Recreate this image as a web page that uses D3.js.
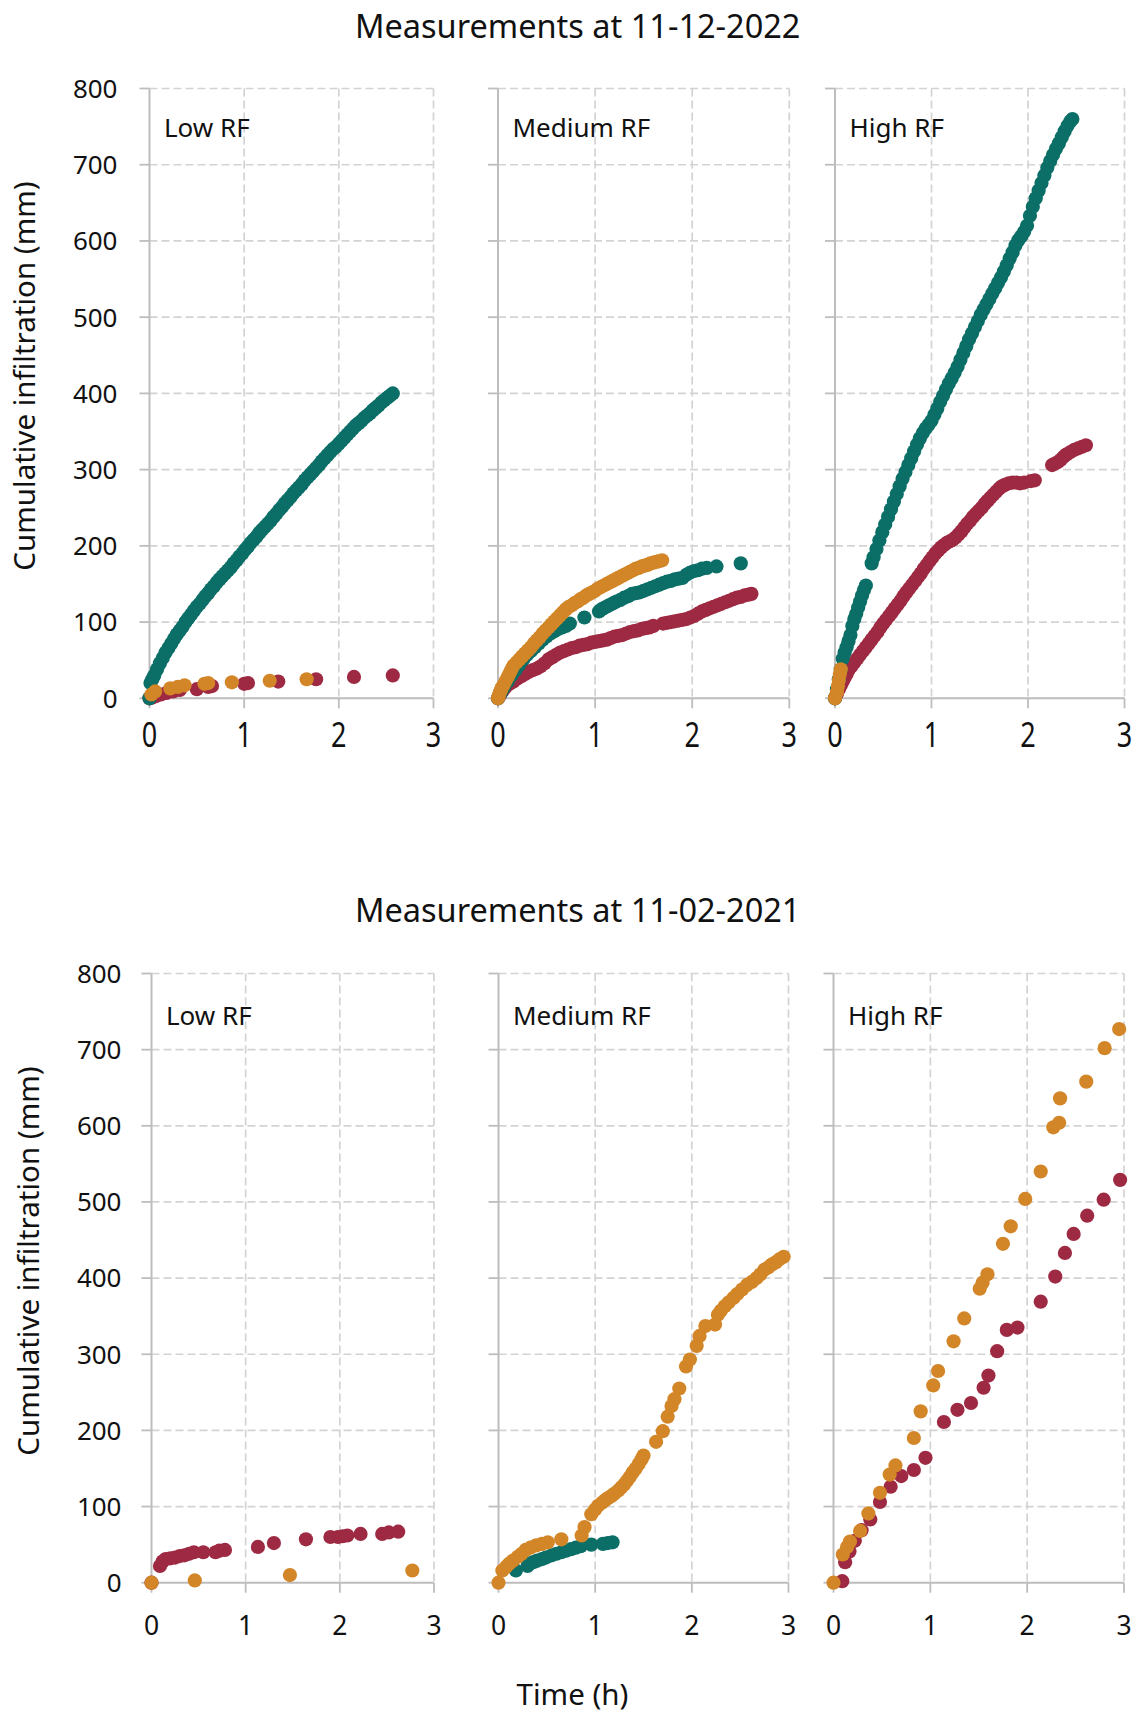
<!DOCTYPE html>
<html><head><meta charset="utf-8">
<script src="https://cdn.jsdelivr.net/npm/d3@7"></script>
<style>body{margin:0;background:#fff}svg{display:block}</style>
</head><body>
<svg id="chart" width="1139" height="1717"></svg>
<script>
// ---------------- DATA ----------------
const xTicks = [0, 1, 2, 3];
const yTicks = [0, 100, 200, 300, 400, 500, 600, 700, 800];
const rowTitles = ["Measurements at 11-12-2022", "Measurements at 11-02-2021"];
const panelLabels = ["Low RF", "Medium RF", "High RF"];
const xAxisTitle = "Time (h)";
const yAxisTitle = "Cumulative infiltration (mm)";

// [time (h), cumulative infiltration (mm)]
// 11-12-2022, Low RF
const lowTeal2022 = [[0,0],[0.01,20],[0.03,25],[0.05,30],[0.08,38],[0.11,46],[0.14,53],[0.17,60],[0.2,66],[0.23,72],[0.26,78],[0.29,84],[0.32,89],[0.35,94],[0.38,100],[0.41,105],[0.44,110],[0.47,115],[0.5,120],[0.53,124],[0.56,129],[0.59,134],[0.62,138],[0.65,143],[0.68,147],[0.71,152],[0.74,156],[0.77,160],[0.8,164],[0.83,168],[0.86,172],[0.89,177],[0.92,181],[0.95,186],[0.98,190],[1.01,195],[1.04,199],[1.07,204],[1.1,208],[1.13,212],[1.16,217],[1.19,221],[1.22,225],[1.25,229],[1.28,233],[1.31,238],[1.34,242],[1.37,247],[1.4,251],[1.43,256],[1.46,260],[1.49,264],[1.52,269],[1.55,273],[1.58,277],[1.61,281],[1.64,286],[1.67,290],[1.7,294],[1.73,298],[1.76,302],[1.79,306],[1.82,311],[1.85,315],[1.88,319],[1.91,323],[1.94,327],[1.97,330],[2.0,334],[2.03,338],[2.06,342],[2.09,346],[2.12,350],[2.15,354],[2.18,358],[2.21,361],[2.24,364],[2.27,368],[2.3,371],[2.33,374],[2.36,378],[2.39,381],[2.42,384],[2.45,388],[2.48,391],[2.51,394],[2.54,397],[2.57,400]];
const lowRed2022 = [[0,0],[0.03,1],[0.07,3],[0.12,5],[0.18,7],[0.25,9],[0.32,11],[0.5,12],[0.62,15],[0.66,16],[1.0,19],[1.04,20],[1.36,22],[1.76,25],[2.16,28],[2.57,30]];
const lowOrange2022 = [[0.02,5],[0.06,9],[0.22,13],[0.3,15],[0.37,17],[0.58,19],[0.62,20],[0.87,21],[1.27,23],[1.66,25]];

// 11-12-2022, Medium RF
const medTeal2022 = [[0,0],[0.03,7],[0.06,14],[0.1,22],[0.14,30],[0.18,37],[0.22,44],[0.26,51],[0.3,57],[0.34,62],[0.38,67],[0.42,72],[0.46,77],[0.5,81],[0.54,85],[0.58,88],[0.62,91],[0.66,93],[0.7,95],[0.74,98],[0.89,106],[1.04,114],[1.07,117],[1.1,119],[1.13,121],[1.16,123],[1.19,125],[1.22,127],[1.26,129],[1.3,132],[1.34,134],[1.38,137],[1.42,138],[1.46,139],[1.5,141],[1.54,143],[1.58,145],[1.62,147],[1.66,149],[1.7,151],[1.74,153],[1.78,154],[1.82,156],[1.86,157],[1.9,158],[1.94,162],[1.98,165],[2.02,167],[2.06,168],[2.1,170],[2.15,171],[2.25,173],[2.5,177]];
const medRed2022 = [[0,0],[0.02,4],[0.05,10],[0.08,15],[0.12,19],[0.16,22],[0.2,26],[0.24,29],[0.28,32],[0.32,35],[0.36,37],[0.4,39],[0.44,42],[0.48,46],[0.52,51],[0.56,54],[0.6,57],[0.64,60],[0.68,62],[0.72,64],[0.76,66],[0.8,67],[0.84,69],[0.88,70],[0.92,71],[0.96,73],[1.0,74],[1.04,75],[1.08,76],[1.12,77],[1.16,79],[1.2,81],[1.24,82],[1.28,83],[1.32,85],[1.36,87],[1.4,88],[1.44,89],[1.48,91],[1.52,92],[1.56,93],[1.6,95],[1.7,98],[1.74,99],[1.78,100],[1.82,101],[1.86,102],[1.9,103],[1.94,104],[1.98,106],[2.02,108],[2.06,111],[2.1,114],[2.14,116],[2.18,118],[2.22,120],[2.26,122],[2.3,124],[2.34,126],[2.38,128],[2.42,130],[2.46,132],[2.5,133],[2.54,135],[2.58,136],[2.61,137]];
const medOrange2022 = [[0,0],[0.01,4],[0.02,8],[0.03,11],[0.04,14],[0.06,18],[0.08,23],[0.1,28],[0.12,33],[0.14,38],[0.16,43],[0.19,47],[0.22,51],[0.25,55],[0.28,59],[0.31,63],[0.34,67],[0.37,72],[0.4,76],[0.43,80],[0.46,85],[0.49,89],[0.52,93],[0.55,97],[0.58,101],[0.61,105],[0.64,109],[0.67,113],[0.7,117],[0.73,120],[0.76,122],[0.79,125],[0.82,127],[0.85,130],[0.88,132],[0.91,135],[0.94,137],[0.97,139],[1.0,141],[1.03,144],[1.06,146],[1.09,148],[1.12,150],[1.15,152],[1.18,154],[1.21,156],[1.24,158],[1.27,160],[1.3,162],[1.33,164],[1.36,166],[1.39,168],[1.42,170],[1.45,171],[1.48,173],[1.51,174],[1.54,175],[1.57,177],[1.6,178],[1.63,179],[1.66,180],[1.69,181]];

// 11-12-2022, High RF
const highTeal2022 = [[0,0],[0.02,12],[0.04,25],[0.06,38],[0.08,52],[0.1,60],[0.12,67],[0.14,75],[0.16,83],[0.18,95],[0.2,104],[0.22,111],[0.24,119],[0.26,127],[0.28,135],[0.3,142],[0.32,148],[0.38,177],[0.4,185],[0.43,196],[0.46,207],[0.49,218],[0.52,228],[0.55,238],[0.58,248],[0.61,258],[0.64,268],[0.67,278],[0.7,288],[0.73,297],[0.76,306],[0.79,315],[0.82,324],[0.85,333],[0.88,341],[0.91,348],[0.94,354],[0.97,359],[1.0,364],[1.03,372],[1.06,380],[1.09,389],[1.12,397],[1.15,405],[1.18,413],[1.21,420],[1.24,427],[1.27,435],[1.3,444],[1.33,453],[1.36,462],[1.39,471],[1.42,479],[1.45,487],[1.48,495],[1.51,503],[1.54,510],[1.57,517],[1.6,524],[1.63,531],[1.66,538],[1.69,545],[1.72,552],[1.75,560],[1.78,568],[1.81,577],[1.84,585],[1.87,594],[1.9,601],[1.93,606],[1.96,612],[1.99,620],[2.02,633],[2.05,645],[2.08,656],[2.11,666],[2.14,676],[2.17,686],[2.2,696],[2.23,705],[2.26,713],[2.29,721],[2.32,728],[2.35,736],[2.38,744],[2.41,751],[2.44,757],[2.46,760]];
const highRed2022 = [[0,0],[0.02,6],[0.04,12],[0.06,17],[0.08,22],[0.1,27],[0.12,32],[0.14,37],[0.17,42],[0.2,47],[0.23,52],[0.26,57],[0.29,62],[0.32,67],[0.35,72],[0.38,77],[0.41,82],[0.44,87],[0.47,93],[0.5,98],[0.53,103],[0.56,108],[0.59,113],[0.62,118],[0.65,123],[0.68,128],[0.71,134],[0.74,139],[0.77,144],[0.8,149],[0.83,154],[0.86,159],[0.89,164],[0.92,170],[0.95,175],[0.98,180],[1.01,185],[1.04,190],[1.07,194],[1.1,198],[1.13,201],[1.16,204],[1.19,206],[1.22,208],[1.25,211],[1.28,215],[1.31,219],[1.34,224],[1.37,229],[1.4,233],[1.43,238],[1.46,242],[1.49,246],[1.52,250],[1.55,255],[1.58,259],[1.61,263],[1.64,267],[1.67,271],[1.7,275],[1.73,278],[1.76,280],[1.8,282],[1.84,283],[1.88,283],[1.92,282],[1.96,283],[2.03,285],[2.07,286],[2.25,306],[2.28,308],[2.31,310],[2.34,313],[2.37,317],[2.4,320],[2.44,323],[2.48,326],[2.52,328],[2.56,330],[2.6,332]];
const highOrange2022 = [[0,0],[0.02,8],[0.03,16],[0.04,24],[0.05,32],[0.06,38]];

// 11-02-2021, Low RF
const lowTeal2021 = [];
const lowRed2021 = [[0,0],[0.09,22],[0.12,28],[0.15,31],[0.2,32],[0.25,33],[0.3,35],[0.35,36],[0.4,38],[0.45,40],[0.55,40],[0.68,40],[0.72,42],[0.78,43],[1.13,47],[1.3,52],[1.64,57],[1.9,60],[1.98,60],[2.03,61],[2.08,62],[2.22,64],[2.45,64],[2.52,66],[2.62,67]];
const lowOrange2021 = [[0,0],[0.46,3],[1.47,10],[2.77,16]];

// 11-02-2021, Medium RF
const medTeal2021 = [[0.18,16],[0.3,22],[0.32,25],[0.36,27],[0.4,29],[0.45,31],[0.49,33],[0.55,36],[0.6,38],[0.65,40],[0.7,42],[0.75,44],[0.8,46],[0.85,48],[0.96,50],[1.08,51],[1.13,52],[1.18,53]];
const medRed2021 = [];
const medOrange2021 = [[0,0],[0.04,16],[0.08,21],[0.11,25],[0.15,29],[0.2,34],[0.24,38],[0.28,43],[0.33,46],[0.39,49],[0.45,51],[0.51,53],[0.65,57],[0.86,62],[0.89,73],[0.96,90],[1.0,96],[1.03,101],[1.07,105],[1.1,108],[1.13,111],[1.17,114],[1.2,117],[1.24,121],[1.27,125],[1.3,129],[1.33,134],[1.36,139],[1.39,145],[1.42,150],[1.45,156],[1.48,162],[1.5,167],[1.63,185],[1.7,199],[1.75,218],[1.79,232],[1.82,241],[1.87,255],[1.94,284],[1.98,293],[2.05,311],[2.08,324],[2.14,337],[2.24,339],[2.27,352],[2.3,357],[2.34,363],[2.38,368],[2.43,374],[2.47,379],[2.52,385],[2.57,391],[2.62,395],[2.67,400],[2.71,405],[2.75,411],[2.79,414],[2.83,418],[2.87,421],[2.91,425],[2.95,428]];

// 11-02-2021, High RF
const highTeal2021 = [];
const highRed2021 = [[0.09,2],[0.12,27],[0.165,41],[0.22,55],[0.29,69],[0.38,83],[0.48,106],[0.59,126],[0.7,140],[0.83,148],[0.95,164],[1.14,211],[1.28,227],[1.42,236],[1.55,256],[1.6,272],[1.69,304],[1.79,332],[1.9,335],[2.14,369],[2.29,402],[2.39,433],[2.48,458],[2.62,482],[2.79,503],[2.96,529]];
const highOrange2021 = [[0,0],[0.096,37],[0.14,47],[0.17,54],[0.275,68],[0.36,91],[0.48,118],[0.58,142],[0.64,154],[0.83,190],[0.9,225],[1.03,259],[1.08,278],[1.24,317],[1.35,347],[1.51,386],[1.54,394],[1.59,405],[1.75,445],[1.83,468],[1.98,504],[2.14,540],[2.27,598],[2.33,604],[2.34,636],[2.61,658],[2.8,702],[2.95,727]];

// ---------------- STYLE / LAYOUT ----------------
const colors = { red: "#9e2942", teal: "#0b6e67", orange: "#d38627" };
const dotR = 7.1;
const fontFam = "'Noto Sans', 'Open Sans', sans-serif";

const rowLayout = [
  { top: 88.5, bottom: 698.3, titleY: 37.5, labelY: 137, xTickY: 734.5, xTickSize: 27, xTickStretch: 1.25, yTickGap: 32, yTitleX: 35, yTitleY: 376,
    cols: [[149.5, 433.5], [498, 789.3], [835, 1124.5]] },
  { top: 973.5, bottom: 1582.7, titleY: 922, labelY: 1024.5, xTickY: 1625.5, xTickSize: 26.5, xTickStretch: 1.0, yTickGap: 30, yTitleX: 39, yTitleY: 1261,
    cols: [[151.5, 434], [498.5, 788.5], [833.5, 1124]] }
];

const panels = [
  { row: 0, col: 0, red: lowRed2022, teal: lowTeal2022, orange: lowOrange2022 },
  { row: 0, col: 1, red: medRed2022, teal: medTeal2022, orange: medOrange2022 },
  { row: 0, col: 2, red: highRed2022, teal: highTeal2022, orange: highOrange2022 },
  { row: 1, col: 0, red: lowRed2021, teal: lowTeal2021, orange: lowOrange2021 },
  { row: 1, col: 1, red: medRed2021, teal: medTeal2021, orange: medOrange2021 },
  { row: 1, col: 2, red: highRed2021, teal: highTeal2021, orange: highOrange2021 }
];

const svg = d3.select("#chart");
svg.append("rect").attr("width", 1139).attr("height", 1717).attr("fill", "#fff");

const gridColor = "#d3d3d3", axisColor = "#bdbdbd", textColor = "#111";

// row titles and y-axis titles
rowLayout.forEach((r, i) => {
  svg.append("text").attr("x", 577.7).attr("y", r.titleY)
    .attr("text-anchor", "middle").attr("font-family", fontFam).attr("font-size", 32.5)
    .attr("fill", textColor).text(rowTitles[i]);
  svg.append("text")
    .attr("transform", `translate(${r.yTitleX},${r.yTitleY}) rotate(-90)`)
    .attr("text-anchor", "middle").attr("font-family", fontFam).attr("font-size", 29.5)
    .attr("fill", textColor).text(yAxisTitle);
});

svg.append("text").attr("x", 572.5).attr("y", 1705)
  .attr("text-anchor", "middle").attr("font-family", fontFam).attr("font-size", 29.5)
  .attr("fill", textColor).text(xAxisTitle);

panels.forEach(p => {
  const r = rowLayout[p.row];
  const [x0, x1] = r.cols[p.col];
  const x = d3.scaleLinear().domain([0, 3]).range([x0, x1]);
  const y = d3.scaleLinear().domain([0, 800]).range([r.bottom, r.top]);
  const g = svg.append("g");

  // horizontal gridlines
  g.selectAll(".hg").data(yTicks.filter(v => v > 0)).join("line")
    .attr("x1", x(0)).attr("x2", x(3)).attr("y1", d => y(d)).attr("y2", d => y(d))
    .attr("stroke", gridColor).attr("stroke-width", 1.7).attr("stroke-dasharray", "8,4");
  // vertical gridlines
  g.selectAll(".vg").data(xTicks.filter(v => v > 0)).join("line")
    .attr("x1", d => x(d)).attr("x2", d => x(d)).attr("y1", y(800)).attr("y2", y(0))
    .attr("stroke", gridColor).attr("stroke-width", 1.7).attr("stroke-dasharray", "8,4");

  // y tick marks
  g.selectAll(".yt").data(yTicks).join("line")
    .attr("x1", x(0) - 10).attr("x2", x(0)).attr("y1", d => y(d)).attr("y2", d => y(d))
    .attr("stroke", axisColor).attr("stroke-width", 1.8);
  // x tick marks
  g.selectAll(".xt").data(xTicks).join("line")
    .attr("x1", d => x(d)).attr("x2", d => x(d)).attr("y1", y(0)).attr("y2", y(0) + 10)
    .attr("stroke", axisColor).attr("stroke-width", 1.8);
  // axes lines
  g.append("line").attr("x1", x(0)).attr("x2", x(0)).attr("y1", y(800)).attr("y2", y(0))
    .attr("stroke", axisColor).attr("stroke-width", 2);
  g.append("line").attr("x1", x(0)).attr("x2", x(3)).attr("y1", y(0)).attr("y2", y(0))
    .attr("stroke", axisColor).attr("stroke-width", 2);

  // y tick labels (first column only)
  if (p.col === 0) {
    g.selectAll(".yl").data(yTicks).join("text")
      .attr("x", x(0) - r.yTickGap).attr("y", d => y(d)).attr("dy", "0.36em")
      .attr("text-anchor", "end").attr("font-family", fontFam).attr("font-size", 26)
      .attr("fill", textColor).text(d => d);
  }
  // x tick labels
  g.selectAll(".xl").data(xTicks).join("text")
    .attr("transform", d => `translate(${x(d)},${r.xTickY}) scale(1,${r.xTickStretch})`)
    .attr("dy", "0.36em").attr("text-anchor", "middle")
    .attr("font-family", fontFam).attr("font-size", r.xTickSize)
    .attr("fill", textColor).text(d => d);

  // panel label
  g.append("text").attr("x", x(0) + 14.5).attr("y", r.labelY)
    .attr("font-family", fontFam).attr("font-size", 26).attr("fill", textColor)
    .text(panelLabels[p.col]);

  // dots: red, teal, orange (orange on top)
  ["red", "teal", "orange"].forEach(k => {
    g.append("g").selectAll("circle").data(p[k]).join("circle")
      .attr("cx", d => x(d[0])).attr("cy", d => y(d[1])).attr("r", dotR)
      .attr("fill", colors[k]);
  });
});
</script>
</body></html>
